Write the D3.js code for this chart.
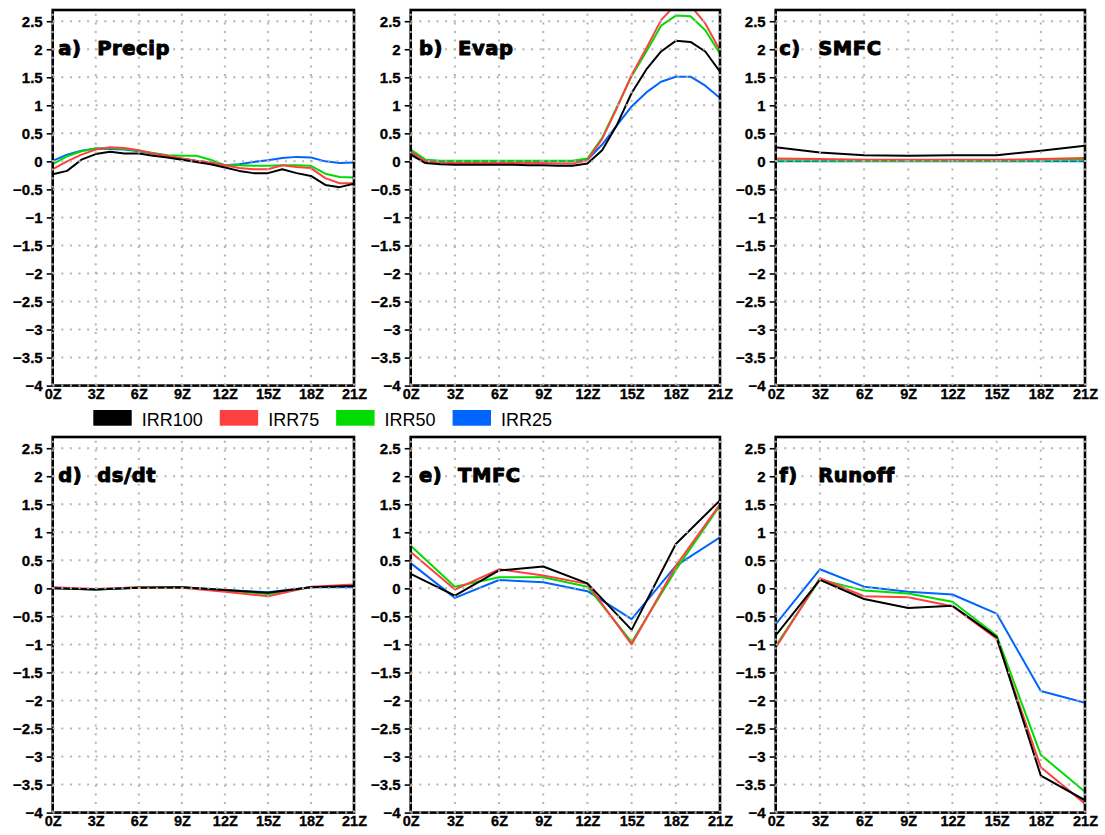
<!DOCTYPE html>
<html><head><meta charset="utf-8">
<script src="https://cdn.jsdelivr.net/npm/d3@7"></script>
<style>body{margin:0;background:#fff}</style>
</head><body><svg id="c" width="1105" height="835"></svg>
<script>
// ---------- data ----------
const seriesNames = ["IRR100", "IRR75", "IRR50", "IRR25"];
const seriesColors = ["#000000", "#ff4040", "#00dc00", "#0064ff"];

const hoursHourly = [0,1,2,3,4,5,6,7,8,9,10,11,12,13,14,15,16,17,18,19,20,21];
const hours3 = [0,3,6,9,12,15,18,21];

const xTickValues = [0,3,6,9,12,15,18,21];
const xTickLabels = ["0Z","3Z","6Z","9Z","12Z","15Z","18Z","21Z"];
const yTickValues = [-4,-3.5,-3,-2.5,-2,-1.5,-1,-0.5,0,0.5,1,1.5,2,2.5];
const yTickLabels = ["\u22124","\u22123.5","\u22123","\u22122.5","\u22122","\u22121.5","\u22121","\u22120.5","0","0.5","1","1.5","2","2.5"];
const yDomain = [-4, 2.7];

const panelLetters = ["a)","b)","c)","d)","e)","f)"];
const panelNames = ["Precip","Evap","SMFC","ds/dt","TMFC","Runoff"];

// a) Precip (hourly)
const precip100 = [-0.23,-0.17,0.03,0.13,0.17,0.14,0.14,0.10,0.07,0.03,-0.01,-0.05,-0.11,-0.17,-0.21,-0.21,-0.14,-0.21,-0.26,-0.42,-0.46,-0.40];
const precip75  = [-0.14,0.00,0.12,0.21,0.25,0.24,0.20,0.14,0.10,0.05,0.01,-0.02,-0.07,-0.12,-0.14,-0.14,-0.07,-0.10,-0.12,-0.30,-0.39,-0.39];
const precip50  = [-0.05,0.09,0.18,0.23,0.24,0.22,0.19,0.15,0.11,0.10,0.10,0.03,-0.07,-0.07,-0.08,-0.08,-0.07,-0.07,-0.08,-0.22,-0.28,-0.29];
const precip25  = [0.01,0.12,0.19,0.23,0.22,0.21,0.18,0.14,0.10,0.05,0.01,-0.02,-0.07,-0.05,-0.01,0.02,0.06,0.08,0.07,0.00,-0.03,-0.02];

// b) Evap (hourly)
const evap100 = [0.12,-0.03,-0.05,-0.06,-0.06,-0.06,-0.06,-0.06,-0.07,-0.07,-0.08,-0.08,-0.04,0.20,0.65,1.22,1.64,1.96,2.15,2.13,1.96,1.60];
const evap75  = [0.18,0.00,-0.02,-0.03,-0.03,-0.03,-0.03,-0.03,-0.03,-0.03,-0.04,-0.04,0.02,0.40,0.95,1.54,2.02,2.52,2.80,2.78,2.46,1.98];
const evap50  = [0.21,0.03,0.01,0.01,0.01,0.01,0.01,0.01,0.01,0.01,0.01,0.01,0.05,0.42,0.97,1.52,1.96,2.42,2.60,2.59,2.34,1.92];
const evap25  = [0.15,0.02,0.00,0.00,0.00,0.00,0.00,0.00,0.00,0.00,0.00,0.00,0.03,0.30,0.64,0.98,1.23,1.42,1.51,1.51,1.35,1.13];

// c) SMFC (3-hourly)
const smfc100 = [0.25,0.16,0.11,0.10,0.11,0.11,0.19,0.28];
const smfc75  = [0.05,0.04,0.03,0.03,0.03,0.03,0.04,0.06];
const smfc50  = [0.02,0.02,0.01,0.01,0.01,0.01,0.02,0.03];
const smfc25  = [0.00,0.00,0.00,0.00,0.00,0.00,0.00,0.00];

// d) ds/dt (3-hourly)
const dsdt100 = [0.00,-0.02,0.01,0.02,-0.03,-0.08,0.02,0.04];
const dsdt75  = [0.02,-0.01,0.02,0.01,-0.06,-0.14,0.03,0.07];
const dsdt50  = [0.01,-0.02,0.02,0.02,-0.04,-0.10,0.02,0.05];
const dsdt25  = [0.00,-0.02,0.01,0.02,-0.03,-0.07,0.02,0.02];

// e) TMFC (3-hourly)
const tmfc100 = [0.26,-0.13,0.32,0.39,0.09,-0.74,0.79,1.57];
const tmfc75  = [0.65,-0.02,0.34,0.23,0.08,-1.00,0.40,1.50];
const tmfc50  = [0.76,0.03,0.20,0.20,0.03,-0.96,0.33,1.48];
const tmfc25  = [0.45,-0.17,0.15,0.11,-0.05,-0.55,0.40,0.91];

// f) Runoff (3-hourly)
const runoff100 = [-0.84,0.15,-0.19,-0.35,-0.31,-0.87,-3.34,-3.78];
const runoff75  = [-1.06,0.18,-0.14,-0.16,-0.32,-0.90,-3.19,-3.84];
const runoff50  = [-1.03,0.16,-0.04,-0.09,-0.24,-0.84,-2.97,-3.63];
const runoff25  = [-0.64,0.34,0.03,-0.06,-0.11,-0.45,-1.83,-2.04];

const panels = [
  {x: hoursHourly, ys: [precip100, precip75, precip50, precip25]},
  {x: hoursHourly, ys: [evap100, evap75, evap50, evap25]},
  {x: hours3, ys: [smfc100, smfc75, smfc50, smfc25]},
  {x: hours3, ys: [dsdt100, dsdt75, dsdt50, dsdt25]},
  {x: hours3, ys: [tmfc100, tmfc75, tmfc50, tmfc25]},
  {x: hours3, ys: [runoff100, runoff75, runoff50, runoff25]}
];

// ---------- layout ----------
const colLeft = [52.7, 410.7, 775.7];
const colRight = [354, 720, 1085];
const titleOffset = [5.5, 8.3, 3.5];
const rowTop = [10, 437];
const rowBottom = [385.6, 812.6];
const drawOrder = [3, 2, 1, 0];
const gridColor = "#b4b4b4";

const svg = d3.select("#c");

panels.forEach((p, i) => {
  const col = i % 3, row = Math.floor(i / 3);
  const x = d3.scaleLinear().domain([0, 21]).range([colLeft[col], colRight[col]]);
  const y = d3.scaleLinear().domain(yDomain).range([rowBottom[row], rowTop[row]]);
  const g = svg.append("g");

  const clipId = "clip" + i;
  g.append("clipPath").attr("id", clipId).append("rect")
    .attr("x", x(0)).attr("y", y(yDomain[1]))
    .attr("width", x(21) - x(0)).attr("height", y(yDomain[0]) - y(yDomain[1]));

  // data lines
  const line = d3.line().x((d, k) => x(p.x[k])).y(d => y(d));
  drawOrder.forEach(s => {
    g.append("path").attr("clip-path", `url(#${clipId})`)
      .attr("d", line(p.ys[s]))
      .attr("fill", "none").attr("stroke", seriesColors[s])
      .attr("stroke-width", 2).attr("stroke-linejoin", "round");
  });

  // frame
  g.append("rect").attr("x", x(0)).attr("y", y(yDomain[1]))
    .attr("width", x(21) - x(0)).attr("height", y(yDomain[0]) - y(yDomain[1]))
    .attr("fill", "none").attr("stroke", "#000").attr("stroke-width", 2.6);

  // grid (dotted) on top
  g.selectAll(".gy").data(yTickValues).join("line")
    .attr("x1", x(0)).attr("x2", x(21))
    .attr("y1", d => y(d)).attr("y2", d => y(d))
    .attr("stroke", gridColor).attr("stroke-width", 2)
    .attr("stroke-dasharray", "2,6.6");
  g.selectAll(".gx").data(xTickValues).join("line")
    .attr("x1", d => x(d)).attr("x2", d => x(d))
    .attr("y1", y(yDomain[0])).attr("y2", y(yDomain[1]))
    .attr("stroke", gridColor).attr("stroke-width", 2)
    .attr("stroke-dasharray", "2,6.6");

  // y axis ticks and labels
  const yAxis = d3.axisLeft(y).tickValues(yTickValues)
    .tickFormat((d, k) => yTickLabels[k]).tickSize(5).tickPadding(4);
  const ga = g.append("g").attr("transform", `translate(${x(0) - 1},0)`).call(yAxis);
  ga.select(".domain").remove();
  ga.selectAll(".tick line").attr("stroke", "#000").attr("stroke-width", 1.6);
  ga.selectAll(".tick text").attr("fill", "#000")
    .attr("stroke", "#000").attr("stroke-width", 0.3)
    .style("font-family", "'Liberation Sans', Arial, sans-serif")
    .style("font-weight", "bold").style("font-size", "15px");

  // x axis labels
  const xAxis = d3.axisBottom(x).tickValues(xTickValues)
    .tickFormat((d, k) => xTickLabels[k]).tickSize(0).tickPadding(3);
  const gx = g.append("g").attr("transform", `translate(0,${y(yDomain[0])})`).call(xAxis);
  gx.select(".domain").remove();
  gx.selectAll(".tick text").attr("fill", "#000")
    .attr("stroke", "#000").attr("stroke-width", 0.3)
    .style("font-family", "'Liberation Sans Narrow', 'Liberation Sans', sans-serif")
    .style("font-weight", "bold").style("font-size", "14.5px");

  // title
  const tx = x(0) + titleOffset[col];
  const ty = y(yDomain[1]) + 45;
  const tStyle = sel => sel.attr("fill", "#000")
    .attr("stroke", "#000").attr("stroke-width", 1).attr("stroke-linejoin", "round")
    .style("font-family", "'DejaVu Sans', sans-serif")
    .style("font-weight", "bold").style("font-size", "19.5px")
    .style("letter-spacing", "0.6px");
  g.append("text").attr("x", tx).attr("y", ty).text(panelLetters[i]).call(tStyle);
  g.append("text").attr("x", tx + 39).attr("y", ty).text(panelNames[i]).call(tStyle);
});

// ---------- legend ----------
const leg = svg.append("g");
let lx = 93.3;
const swW = 38.4, swH = 15.7, swY = 410, gapLabel = 10, gapItem = 17;
seriesNames.forEach((name, s) => {
  leg.append("rect").attr("x", lx).attr("y", swY).attr("width", swW).attr("height", swH)
    .attr("fill", seriesColors[s]);
  const t = leg.append("text").attr("x", lx + swW + gapLabel).attr("y", swY + swH)
    .text(name).attr("fill", "#000")
    .style("font-family", "'Liberation Sans Narrow', 'Liberation Sans', sans-serif")
    .style("font-size", "18px");
  lx = lx + swW + gapLabel + t.node().getComputedTextLength() + gapItem;
});
</script>
</body></html>
